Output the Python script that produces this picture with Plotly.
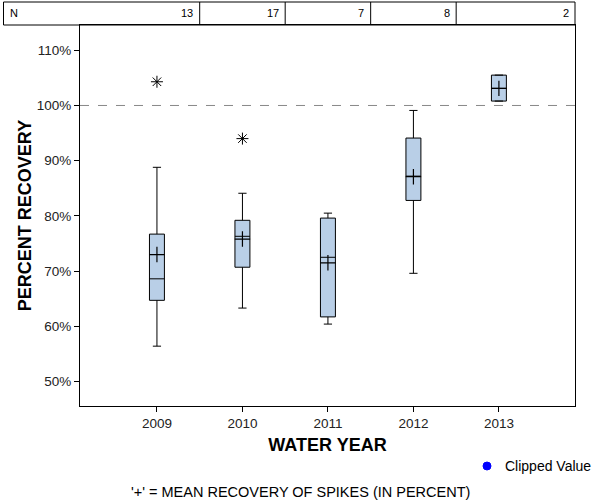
import plotly.graph_objects as go

years = ["2009", "2010", "2011", "2012", "2013"]
n_counts = ["13", "17", "7", "8", "2"]
q1 = [64.7, 70.7, 61.7, 82.8, 100.8]
median = [68.6, 76.3, 72.5, 87.2, 103.1]
q3 = [76.7, 79.2, 79.6, 94.1, 105.5]
lowerfence = [56.4, 63.3, 60.4, 69.6, 100.8]
upperfence = [88.8, 84.1, 80.5, 99.1, 105.5]
means = [73.0, 75.8, 71.5, 87.1, 103.1]
outlier_years = ["2009", "2010"]
outlier_vals = [104.3, 94.0]
y_ticks = [50, 60, 70, 80, 90, 100, 110]
y_tick_labels = ["50%", "60%", "70%", "80%", "90%", "100%", "110%"]

FONT = "Liberation Sans, Arial, sans-serif"

fig = go.Figure()
fig.add_trace(go.Box(
    x=years, q1=q1, median=median, q3=q3,
    lowerfence=lowerfence, upperfence=upperfence,
    fillcolor="#b9cfe7", line=dict(color="black", width=1),
    width=0.175, whiskerwidth=0.55, boxpoints=False, showlegend=False,
    hoverinfo="skip",
))
fig.add_trace(go.Scatter(
    x=years, y=means, mode="markers",
    marker=dict(symbol="cross-thin-open", size=11, color="black", line=dict(color="black", width=1.2)),
    showlegend=False, hoverinfo="skip",
))
fig.add_trace(go.Scatter(
    x=outlier_years, y=outlier_vals, mode="markers",
    marker=dict(symbol="asterisk-open", size=10, color="black", line=dict(color="black", width=1)),
    showlegend=False, hoverinfo="skip",
))

fig.add_hline(y=100, line=dict(color="#888888", width=1, dash="dash"))

shapes = []
top = 1 + 23 / 381
shapes.append(dict(type="rect", xref="paper", yref="paper", x0=(3.5 - 80) / 495, x1=1.0, y0=1.0, y1=top,
                   line=dict(color="black", width=1)))
for xv in [0.5, 1.5, 2.5, 3.5]:
    shapes.append(dict(type="line", xref="x", yref="paper", x0=xv, x1=xv, y0=1.0, y1=top,
                       line=dict(color="black", width=1)))
shapes.append(dict(type="circle", xref="paper", yref="paper",
                   x0=(483 - 80) / 495, x1=(491 - 80) / 495,
                   y0=(406 - 470) / 381, y1=(406 - 462) / 381,
                   fillcolor="blue", line=dict(color="blue", width=1)))
fig.update_layout(shapes=list(fig.layout.shapes) + shapes)

annotations = [
    dict(text="N", xref="paper", yref="paper", x=(8 - 80) / 495, y=(top + 1) / 2,
         xanchor="left", yanchor="middle", showarrow=False, font=dict(size=11, family=FONT, color="black")),
    dict(text="Clipped Value", xref="paper", yref="paper", x=(503 - 80) / 495, y=(406 - 466) / 381,
         xanchor="left", yanchor="middle", showarrow=False, font=dict(size=14, family=FONT, color="black")),
    dict(text="'+' = MEAN RECOVERY OF SPIKES (IN PERCENT)", xref="paper", yref="paper",
         x=(300 - 80) / 495, y=(406 - 492) / 381, xanchor="center", yanchor="middle",
         showarrow=False, font=dict(size=14.5, family=FONT, color="black")),
]
cell_right = [0.5, 1.5, 2.5, 3.5]
for i, n in enumerate(n_counts):
    if i < 4:
        annotations.append(dict(text=n, xref="x", yref="paper", x=cell_right[i] - 0.05, y=(top + 1) / 2,
                                xanchor="right", yanchor="middle", showarrow=False,
                                font=dict(size=11, family=FONT, color="black")))
    else:
        annotations.append(dict(text=n, xref="paper", yref="paper", x=(571 - 80) / 495, y=(top + 1) / 2,
                                xanchor="right", yanchor="middle", showarrow=False,
                                font=dict(size=11, family=FONT, color="black")))

fig.update_layout(
    width=600, height=500,
    margin=dict(l=80, r=25, t=25, b=94),
    paper_bgcolor="white", plot_bgcolor="white",
    font=dict(family=FONT, size=12, color="black"),
    annotations=annotations,
    xaxis=dict(type="category", range=[-0.9, 4.89], showline=True, linecolor="black", linewidth=1,
               mirror=True, ticks="outside", ticklen=5, tickcolor="black", showgrid=False,
               zeroline=False,
               title=dict(text="<b>WATER YEAR</b>", font=dict(size=18, family=FONT), standoff=8),
               tickfont=dict(size=13.5, family=FONT, color="#222")),
    yaxis=dict(range=[45.56, 114.58], tickvals=y_ticks, ticktext=y_tick_labels, showline=True,
               linecolor="black", linewidth=1, mirror=True, ticks="outside", ticklen=5,
               tickcolor="black", showgrid=False, zeroline=False,
               title=dict(text="<b>PERCENT RECOVERY</b>", font=dict(size=18, family=FONT), standoff=0),
               tickfont=dict(size=13.5, family=FONT, color="#222")),
)

fig.write_html("out.html", config={"displayModeBar": False},
               post_script="document.body.style.margin='0';")
